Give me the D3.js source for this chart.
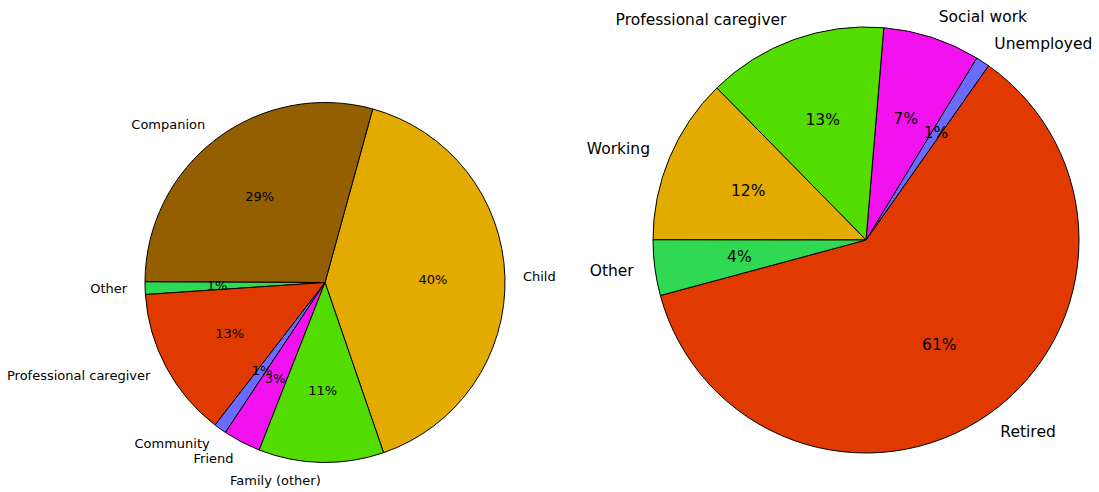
<!DOCTYPE html>
<html>
<head>
<meta charset="utf-8">
<script src="https://cdn.jsdelivr.net/npm/d3@7"></script>
<style>
  body { margin: 0; background: #fff; }
  svg { display: block; font-family: "DejaVu Sans", sans-serif; }
</style>
</head>
<body>
<svg id="chart" width="1099" height="492"></svg>
<script>
// left pie: relationship of the caregiver (counts)
const leftLabels = ['Child', 'Companion', 'Other', 'Professional caregiver', 'Community', 'Friend', 'Family (other)'];
const leftValues = [36, 26, 1, 12, 1, 3, 10];
const leftColors = ['#e3aa00', '#935f00', '#2fd952', '#e03a00', '#6b6bff', '#f212f0', '#52dc00'];

// right pie: occupation (counts)
const rightLabels = ['Retired', 'Unemployed', 'Social work', 'Professional caregiver', 'Working', 'Other'];
const rightValues = [58, 1, 7, 13, 12, 4];
const rightColors = ['#e03a00', '#6b6bff', '#f212f0', '#52dc00', '#e3aa00', '#2fd952'];

const svg = d3.select('#chart');
const deg = Math.PI / 180;

function drawPie(cfg) {
    // startDeg is math angle (ccw from 3 o'clock); slices run counterclockwise
    const a0 = (90 - cfg.startDeg) * deg;
    const pie = d3.pie().sort(null).startAngle(a0).endAngle(a0 - 2 * Math.PI);
    const arcs = pie(cfg.values);
    const total = d3.sum(cfg.values);
    const arc = d3.arc().innerRadius(0).outerRadius(cfg.r);

    const g = svg.append('g').attr('transform', `translate(${cfg.cx},${cfg.cy})`);

    g.selectAll('path')
        .data(arcs)
        .enter()
        .append('path')
        .attr('d', arc)
        .attr('fill', (d, i) => cfg.colors[i])
        .attr('stroke', '#000')
        .attr('stroke-width', 1)
        .attr('stroke-linejoin', 'round');

    const mid = d => (d.startAngle + d.endAngle) / 2;
    const pos = (d, f) => [Math.sin(mid(d)) * cfg.r * f, -Math.cos(mid(d)) * cfg.r * f];

    // percent labels are truncated, not rounded
    g.selectAll('text.pct')
        .data(arcs)
        .enter()
        .append('text')
        .attr('class', 'pct')
        .attr('x', d => pos(d, 0.6)[0])
        .attr('y', d => pos(d, 0.6)[1])
        .attr('text-anchor', 'middle')
        .attr('dominant-baseline', 'central')
        .style('font-size', cfg.font + 'px')
        .style('fill', '#000')
        .text(d => Math.floor(d.value / total * 100) + '%');

    g.selectAll('text.lbl')
        .data(arcs)
        .enter()
        .append('text')
        .attr('class', 'lbl')
        .attr('x', d => pos(d, 1.1)[0])
        .attr('y', d => pos(d, 1.1)[1])
        .attr('text-anchor', d => (pos(d, 1.1)[0] > 0 ? 'start' : 'end'))
        .attr('dominant-baseline', 'central')
        .style('font-size', cfg.font + 'px')
        .style('fill', '#000')
        .text((d, i) => cfg.labels[i]);
}

drawPie({ cx: 325, cy: 282.5, r: 180, startDeg: -71, font: 13,
    labels: leftLabels, values: leftValues, colors: leftColors });
drawPie({ cx: 866, cy: 240, r: 213, startDeg: -164.9, font: 15.5,
    labels: rightLabels, values: rightValues, colors: rightColors });
</script>
</body>
</html>
